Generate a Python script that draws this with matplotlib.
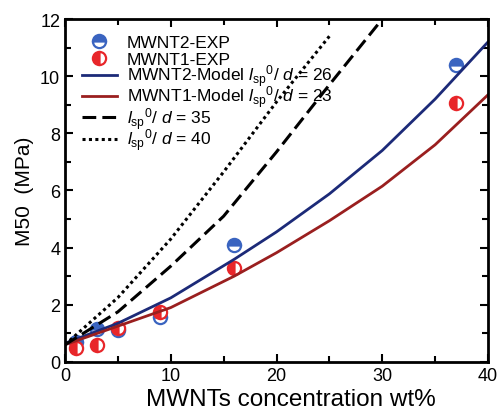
import numpy as np
import matplotlib
matplotlib.use("Agg")
import matplotlib.pyplot as plt

plt.rcParams['font.family'] = ['Liberation Sans', 'DejaVu Sans']
plt.rcParams['mathtext.fontset'] = 'custom'
plt.rcParams['mathtext.rm'] = 'Liberation Sans'
plt.rcParams['mathtext.it'] = 'Liberation Sans:italic'

# experimental data
x_exp = [1, 3, 5, 9, 16, 37]
mwnt2_exp = [0.71, 1.15, 1.12, 1.57, 4.1, 10.4]
mwnt1_exp = [0.48, 0.6, 1.2, 1.75, 3.3, 9.05]

# model curves
x_model = [0, 5, 10, 16, 20, 25, 30, 35, 40]
mwnt2_model = [0.65, 1.35, 2.24, 3.59, 4.55, 5.88, 7.4, 9.2, 11.2]
mwnt1_model = [0.6, 1.25, 1.9, 3.0, 3.82, 4.94, 6.15, 7.6, 9.35]

x35 = [0, 5, 10, 15, 20, 25, 30]
m35 = [0.6, 1.75, 3.35, 5.1, 7.35, 9.7, 12.0]
x40 = [0, 5, 10, 15, 20, 25]
m40 = [0.6, 2.25, 4.3, 6.65, 9.1, 11.4]

lab = r'$l_{\rm sp}{}^{\rm 0}$/ $d$'

fig = plt.figure(figsize=(5, 4.1), dpi=100)
ax = fig.add_axes([0.13, 0.115, 0.846, 0.836])

h_exp2, = ax.plot(x_exp, mwnt2_exp, 'o', ls='none', ms=9.5, mew=1.6, color='#3a64c0',
                  fillstyle='top', markerfacecoloralt='white', label='MWNT2-EXP')
h_exp1, = ax.plot(x_exp, mwnt1_exp, 'o', ls='none', ms=9.5, mew=1.6, color='#e8262a',
                  fillstyle='left', markerfacecoloralt='white', label='MWNT1-EXP')
h_m2, = ax.plot(x_model, mwnt2_model, color='#1c2a78', lw=2, label='MWNT2-Model ' + lab + ' = 26')
h_m1, = ax.plot(x_model, mwnt1_model, color='#9a1f1f', lw=2, label='MWNT1-Model ' + lab + ' = 23')
h35, = ax.plot(x35, m35, color='black', lw=2.2, ls=(0, (4.5, 2)), label=lab + ' = 35')
h40, = ax.plot(x40, m40, color='black', lw=2.2, ls=(0, (1, 1.1)), label=lab + ' = 40')

ax.set_xlim(0, 40)
ax.set_ylim(0, 12)
ax.set_xticks([0, 10, 20, 30, 40])
ax.set_xticks([5, 15, 25, 35], minor=True)
ax.set_yticks([0, 2, 4, 6, 8, 10, 12])
ax.set_yticks([1, 3, 5, 7, 9, 11], minor=True)
ax.tick_params(which='both', direction='in', top=True, right=True, width=1.5, labelsize=13)
ax.tick_params(which='major', length=6)
ax.tick_params(which='minor', length=4)
for s in ax.spines.values():
    s.set_linewidth(2)

ax.set_xlabel('MWNTs concentration wt%', fontsize=17.5)
ax.xaxis.set_label_coords(0.534, -0.075)
ax.set_ylabel('M50  (MPa)', fontsize=15)

leg1 = ax.legend(handles=[h_exp2, h_exp1], loc='upper left', bbox_to_anchor=(0.04, 0.953),
                 frameon=False, fontsize=12.5, handlelength=2.0, borderpad=0,
                 borderaxespad=0, labelspacing=0.1, handletextpad=0.57)
ax.add_artist(leg1)
ax.legend(handles=[h_m2, h_m1, h35, h40], loc='upper left', bbox_to_anchor=(0.04, 0.873),
          frameon=False, fontsize=12.5, handlelength=2.0, borderpad=0,
          borderaxespad=0, labelspacing=-0.3, handletextpad=0.57)

fig.savefig('out.png', dpi=100)
